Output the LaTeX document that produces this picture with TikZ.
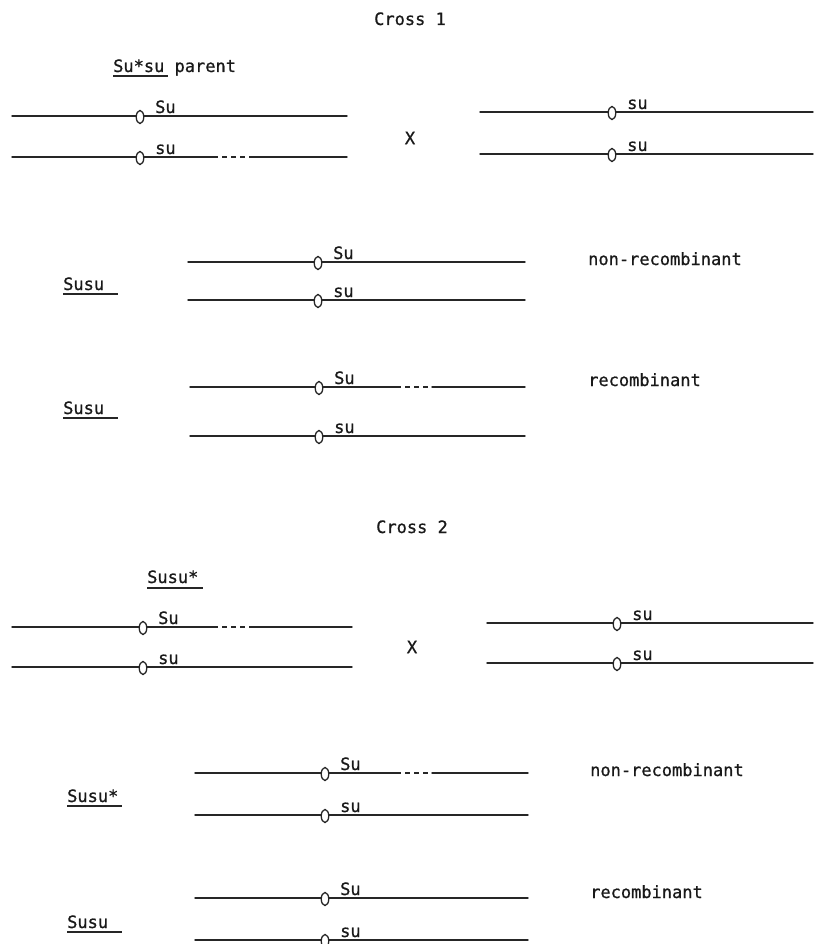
\documentclass[tikz,border=0pt]{standalone}
\usepackage{fontspec}
\setmonofont{DejaVu Sans Mono}[FakeBold=0.8]
\usetikzlibrary{shapes.geometric}
\tikzset{
  x=1pt, y=-1pt,
  chr/.style={line width=1.4pt, draw=black!85, line cap=round},
  brk/.style={line width=1.4pt, draw=black!85, dash pattern=on 5pt off 4pt},
  cen/.style={ellipse, draw=black!85, line width=1.3pt, fill=white, minimum width=7.5pt, minimum height=13pt, inner sep=0pt},
  txt/.style={font=\ttfamily\fontsize{17}{19}\selectfont, inner sep=0pt, text=black!90},
  lab/.style={txt, anchor=base west},
  ul/.style={line width=1.4pt, draw=black!85},
}
% #1 name, #2 x start, #3 centromere x, #4 x end, #5 y, #6 label
\newcommand\chromo[6]{%
  \coordinate (#1a) at (#2,#5);
  \coordinate (#1b) at (#4,#5);
  \draw[chr] (#1a) -- (#1b);
  \node[cen] (#1c) at (#3,#5+1) {};
  \node[lab] (#1l) at (#3+15,#5-3) {#6};
}
% same with a broken (dashed) stretch from #7 to #8
\newcommand\chromobrk[8]{%
  \coordinate (#1a) at (#2,#5);
  \coordinate (#1b) at (#4,#5);
  \coordinate (#1d) at (#7,#5);
  \coordinate (#1e) at (#8,#5);
  \draw[chr] (#1a) -- (#1d);
  \draw[brk] (#1d) -- (#1e);
  \draw[chr] (#1e) -- (#1b);
  \node[cen] (#1c) at (#3,#5+1) {};
  \node[lab] (#1l) at (#3+15,#5-3) {#6};
}
\begin{document}
\begin{tikzpicture}
\useasboundingbox[fill=white] (0,0) rectangle (813,944);

% ---------------- Cross 1 ----------------
\node[lab] (c1) at (374,25) {Cross 1};
\node[lab] (p1) at (113,72) {Su*su parent};
\draw[ul] (113,76) -- (168,76);

\chromo{a1}{12}{140}{347}{116}{Su}
\chromobrk{a2}{12}{140}{347}{157}{su}{213}{253}
\node[txt] (x1) at (410,138) {X};
\chromo{b1}{480}{612}{813}{112}{su}
\chromo{b2}{480}{612}{813}{154}{su}

\chromo{n1}{188}{318}{525}{262}{Su}
\chromo{n2}{188}{318}{525}{300}{su}
\node[lab] (g1) at (63,290) {Susu};
\draw[ul] (63,294) -- (118,294);
\node[lab] (t1) at (588,265) {non-recombinant};

\chromobrk{r1}{190}{319}{525}{387}{Su}{396}{432}
\chromo{r2}{190}{319}{525}{436}{su}
\node[lab] (g2) at (63,414) {Susu};
\draw[ul] (63,418) -- (118,418);
\node[lab] (t2) at (588,386) {recombinant};

% ---------------- Cross 2 ----------------
\node[lab] (c2) at (376,533) {Cross 2};
\node[lab] (p2) at (147,583) {Susu*};
\draw[ul] (147,588) -- (203,588);

\chromobrk{d1}{12}{143}{352}{627}{Su}{213}{253}
\chromo{d2}{12}{143}{352}{667}{su}
\node[txt] (x2) at (412,647) {X};
\chromo{e1}{487}{617}{813}{623}{su}
\chromo{e2}{487}{617}{813}{663}{su}

\chromobrk{m1}{195}{325}{528}{773}{Su}{396}{432}
\chromo{m2}{195}{325}{528}{815}{su}
\node[lab] (g3) at (67,802) {Susu*};
\draw[ul] (67,806) -- (122,806);
\node[lab] (t3) at (590,776) {non-recombinant};

\chromo{s1}{195}{325}{528}{898}{Su}
\chromo{s2}{195}{325}{528}{940}{su}
\node[lab] (g4) at (67,928) {Susu};
\draw[ul] (67,932) -- (122,932);
\node[lab] (t4) at (590,898) {recombinant};
\end{tikzpicture}
\end{document}
